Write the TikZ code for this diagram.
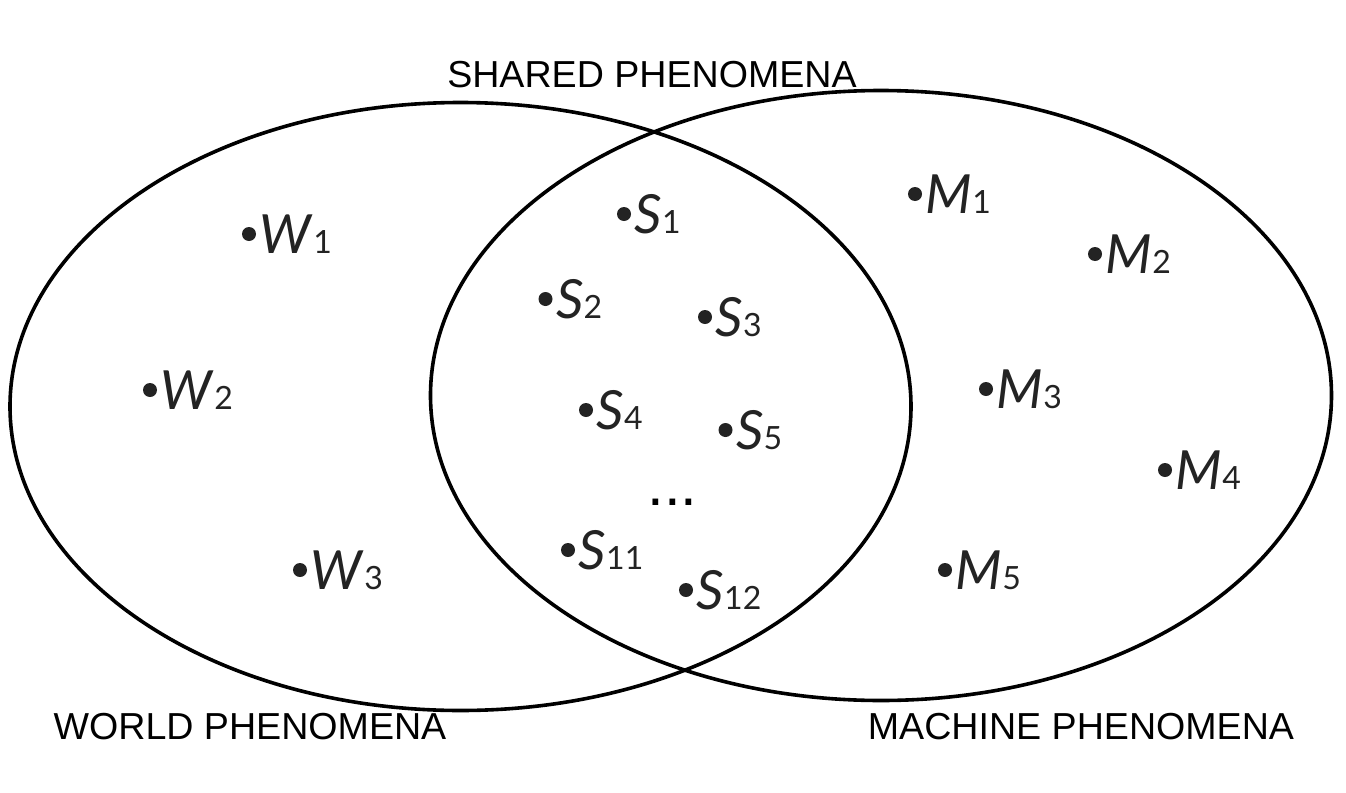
\documentclass[tikz,border=0pt]{standalone}
\usepackage{fontspec}
\setmainfont{Liberation Sans}
\newfontfamily\itemfont{Lato}
\usetikzlibrary{positioning}
\definecolor{ink}{HTML}{232323}
\newcommand{\phen}[2]{\textit{#1}{\fontsize{16}{16}\selectfont #2}}
\tikzset{
  dot/.style={circle,fill=ink,inner sep=0pt,minimum size=7pt},
  lbl/.style={inner sep=0pt,text=ink,font=\itemfont\fontsize{27}{27}\selectfont},
  title/.style={inner sep=0pt,font=\fontsize{18.8}{18.8}\selectfont},
  set/.style={line width=1.8pt},
}
\begin{document}
\begin{tikzpicture}[x=0.5pt,y=-0.5pt]
        \useasboundingbox (0,0) rectangle (1346,793);
        % the two sets
        \draw [set] (460.5,406.5) ellipse [x radius=225.25pt, y radius=152pt];
        \draw [set] (881,395.5) ellipse [x radius=225.25pt, y radius=152.5pt];
        \node [title] (shared)  at (652,74.5) {SHARED PHENOMENA};
        \node [title] (world)   at (250,726.5)  {WORLD PHENOMENA};
        \node [title] (machine) at (1081,726.5) {MACHINE PHENOMENA};
        % world
        \node [dot] (w1) at (249,234) {};
        \node [dot] (w2) at (150,390) {};
        \node [dot] (w3) at (300,570) {};
        \node [lbl,right=1.5pt of w1] (w1l) {\phen{W}{1}};
        \node [lbl,right=1.5pt of w2] (w2l) {\phen{W}{2}};
        \node [lbl,right=1.5pt of w3] (w3l) {\phen{W}{3}};
        % shared
        \node [dot] (s1)  at (624,214) {};
        \node [dot] (s2)  at (545.5,299) {};
        \node [dot] (s3)  at (705,317) {};
        \node [dot] (s4)  at (586,410) {};
        \node [dot] (s5)  at (725.5,430) {};
        \node [dot] (s11) at (568,550) {};
        \node [dot] (s12) at (686,590) {};
        \node [lbl,right=1.5pt of s1]  (s1l)  {\phen{S}{1}};
        \node [lbl,right=1.5pt of s2]  (s2l)  {\phen{S}{2}};
        \node [lbl,right=1.5pt of s3]  (s3l)  {\phen{S}{3}};
        \node [lbl,right=1.5pt of s4]  (s4l)  {\phen{S}{4}};
        \node [lbl,right=1.5pt of s5]  (s5l)  {\phen{S}{5}};
        \node [lbl,right=1.5pt of s11] (s11l) {\phen{S}{11}};
        \node [lbl,right=1.5pt of s12] (s12l) {\phen{S}{12}};
        \node [inner sep=0pt,anchor=base,font=\fontsize{30}{30}\selectfont] (more) at (672.5,505) {...};
        % machine
        \node [dot] (m1) at (915,194) {};
        \node [dot] (m2) at (1095,254) {};
        \node [dot] (m3) at (986,389) {};
        \node [dot] (m4) at (1165,470) {};
        \node [dot] (m5) at (945,570) {};
        \node [lbl,right=1.5pt of m1] (m1l) {\phen{M}{1}};
        \node [lbl,right=1.5pt of m2] (m2l) {\phen{M}{2}};
        \node [lbl,right=1.5pt of m3] (m3l) {\phen{M}{3}};
        \node [lbl,right=1.5pt of m4] (m4l) {\phen{M}{4}};
        \node [lbl,right=1.5pt of m5] (m5l) {\phen{M}{5}};
\end{tikzpicture}
\end{document}
